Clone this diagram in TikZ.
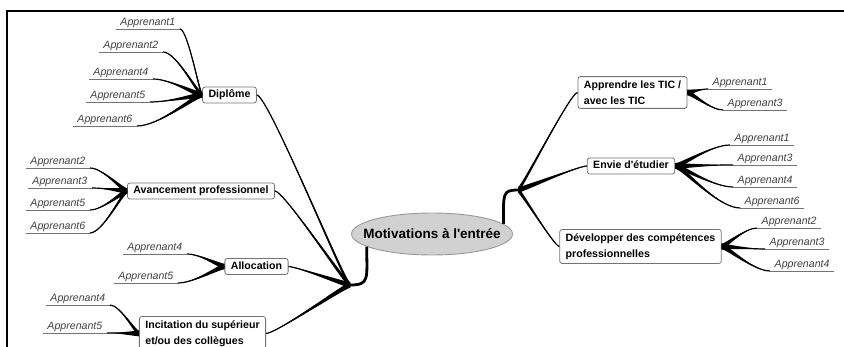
\documentclass[tikz,border=0pt]{standalone}
\usepackage{fontspec}
\setmainfont{Liberation Sans}
\usetikzlibrary{shapes.geometric,calc}
\tikzset{
  cat/.style={draw=black!55, rounded corners=2.5pt, fill=white, line width=0.8pt,
    font=\bfseries\fontsize{10.6}{15}\selectfont, inner xsep=6pt, inner ysep=3pt,
    text height=7.6pt, text depth=2.4pt},
  cattwo/.style={draw=black!55, rounded corners=2.5pt, fill=white, line width=0.8pt,
    font=\bfseries\fontsize{10.6}{16}\selectfont, inner xsep=6pt, inner ysep=4pt, align=left},
  lrn/.style={font=\itshape\fontsize{10.6}{12}\selectfont, text=black!75,
    inner xsep=4.5pt, inner ysep=1.2pt, text height=7.8pt, text depth=2.3pt},
  uline/.style={draw=black!55, line width=0.9pt},
  brfill/.style={fill=black},
  brline/.style={draw=black, line width=1.2pt},
  trunk/.style={draw=black, line width=2.8pt},
  frameline/.style={draw=black, line width=2pt},
  central/.style={ellipse, draw=black!40, fill=black!18, line width=0.9pt,
    minimum width=161pt, minimum height=42pt, inner sep=0pt,
    font=\bfseries\fontsize{13.5}{16}\selectfont}
}
% tapered branch: thick at #1, thin at #2, half width #3, control fractions #4 #5
\newcommand\brnch[5]{%
  \path (#1) coordinate (tA) (#2) coordinate (tB);
  \path (tA-|tB) coordinate (tDa) (tB-|tA) coordinate (tDb);
  \path ($(tA)!#4!(tDa)$) coordinate (tCa) ($(tB)!#5!(tDb)$) coordinate (tCb);
  \fill[brfill] ($(tA)+(0,#3)$) .. controls ($(tCa)+(0,#3)$) and (tCb) .. (tB)
     .. controls (tCb) and ($(tCa)-(0,#3)$) .. ($(tA)-(0,#3)$) -- cycle;
  \draw[brline] (tA) .. controls (tCa) and (tCb) .. (tB);
}
\begin{document}
\begin{tikzpicture}[x=1pt,y=-1pt]
\useasboundingbox (0,0) rectangle (844,347);
\clip (0,0) rectangle (844,347);

% category nodes
\node[cat] (dip) at (229.5,95) {Diplôme};
\node[cat] (ava) at (201,191) {Avancement professionnel};
\node[cat] (alo) at (256.5,266.5) {Allocation};
\node[cattwo] (inc) at (202.5,333.5) {Incitation du supérieur\\et/ou des collègues};
\node[cattwo] (app) at (632.5,92.5) {Apprendre les TIC /\\avec les TIC};
\node[cat] (env) at (631,166) {Envie d{\textquotesingle}étudier};
\node[cattwo] (dev) at (640.5,246.5) {Développer des compétences\\professionnelles};
\node[central] (mot) at (432,234) {\makebox[0pt]{Motivations à l{\textquotesingle}entrée}};

% learners, left side
\node[lrn, anchor=south east] (d1) at (180,29) {Apprenant1};
\node[lrn, anchor=south east] (d2) at (163,52) {Apprenant2};
\node[lrn, anchor=south east] (d4) at (153,79) {Apprenant4};
\node[lrn, anchor=south east] (d5) at (150,102) {Apprenant5};
\node[lrn, anchor=south east] (d6) at (137,126) {Apprenant6};
\node[lrn, anchor=south east] (a2) at (90,168) {Apprenant2};
\node[lrn, anchor=south east] (a3) at (92,188) {Apprenant3};
\node[lrn, anchor=south east] (a5) at (90,210) {Apprenant5};
\node[lrn, anchor=south east] (a6) at (90,233) {Apprenant6};
\node[lrn, anchor=south east] (l4) at (187,254) {Apprenant4};
\node[lrn, anchor=south east] (l5) at (178,283) {Apprenant5};
\node[lrn, anchor=south east] (i4) at (110,305) {Apprenant4};
\node[lrn, anchor=south east] (i5) at (107,333) {Apprenant5};
% learners, right side
\node[lrn, anchor=south west] (p1) at (708,89) {Apprenant1};
\node[lrn, anchor=south west] (p3) at (723,110) {Apprenant3};
\node[lrn, anchor=south west] (e1) at (730,145) {Apprenant1};
\node[lrn, anchor=south west] (e3) at (733,165) {Apprenant3};
\node[lrn, anchor=south west] (e4) at (733,187) {Apprenant4};
\node[lrn, anchor=south west] (e6) at (740,208) {Apprenant6};
\node[lrn, anchor=south west] (v2) at (757,228) {Apprenant2};
\node[lrn, anchor=south west] (v3) at (765,249) {Apprenant3};
\node[lrn, anchor=south west] (v4) at (770,271) {Apprenant4};

\foreach \n in {d1,d2,d4,d5,d6,a2,a3,a5,a6,l4,l5,i4,i5,p1,p3,e1,e3,e4,e6,v2,v3,v4}
  \draw[uline] (\n.south west) -- (\n.south east);

% hubs and trunks
\coordinate (hl) at (350,285);
\coordinate (hr) at (518,190);
\draw[trunk] (mot.191) .. controls +(0,32) and +(20,0) .. (hl);
\draw[trunk] (mot.8) .. controls +(0,-30) and +(-16,0) .. (hr);

% main branches
\brnch{hl}{dip.east}{2.8}{0.05}{0.12}
\brnch{hl}{ava.east}{2.8}{0.05}{0.12}
\brnch{hl}{alo.east}{2.8}{0.05}{0.12}
\brnch{hl}{inc.east}{2.8}{0.05}{0.12}
\brnch{hr}{app.west}{2.8}{0.05}{0.12}
\brnch{hr}{env.west}{2.8}{0.05}{0.12}
\brnch{hr}{dev.west}{2.8}{0.05}{0.12}

% learner branches
\foreach \n in {d1,d2,d4,d5,d6} {\brnch{dip.west}{\n.south east}{2.8}{0.1}{0.35}}
\foreach \n in {a2,a3,a5,a6} {\brnch{ava.west}{\n.south east}{2.8}{0.1}{0.35}}
\foreach \n in {l4,l5} {\brnch{alo.west}{\n.south east}{2.8}{0.1}{0.35}}
\foreach \n in {i4,i5} {\brnch{inc.west}{\n.south east}{2.8}{0.1}{0.35}}
\foreach \n in {p1,p3} {\brnch{app.east}{\n.south west}{2.8}{0.1}{0.35}}
\foreach \n in {e1,e3,e4,e6} {\brnch{env.east}{\n.south west}{2.8}{0.1}{0.35}}
\foreach \n in {v2,v3,v4} {\brnch{dev.east}{\n.south west}{2.8}{0.1}{0.35}}

% frame
\draw[frameline] (844,11) -- (7,11) -- (7,347);
\end{tikzpicture}
\end{document}
